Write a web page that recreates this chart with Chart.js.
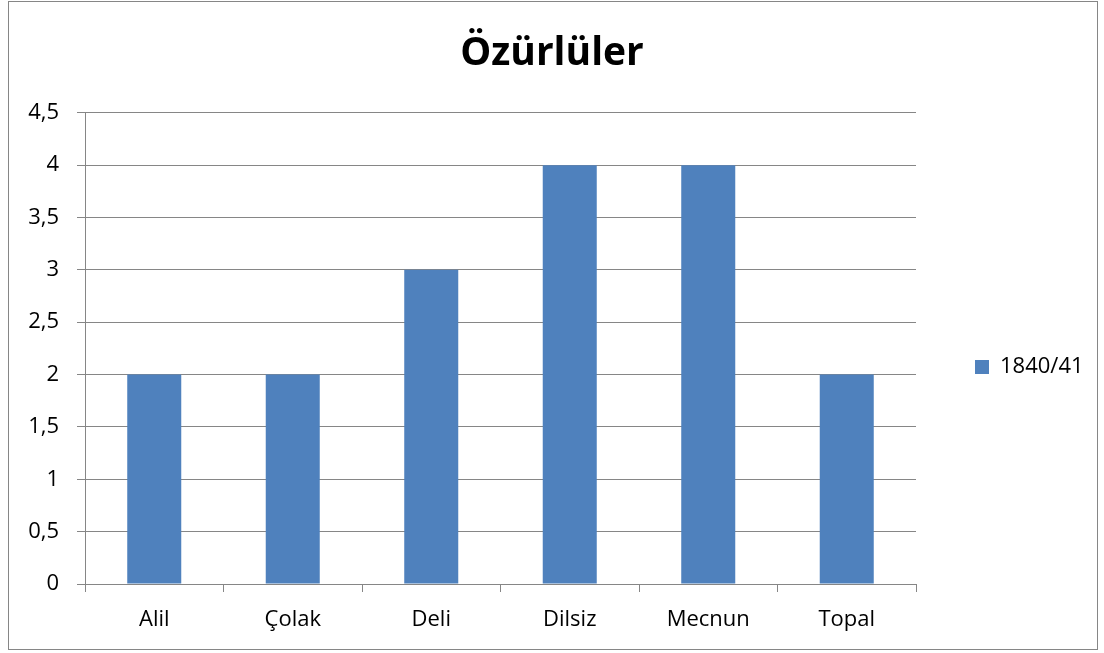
<!DOCTYPE html>
<html>
<head>
<meta charset="utf-8">
<script src="https://cdn.jsdelivr.net/npm/chart.js@4.4.1/dist/chart.umd.min.js"></script>
<style>
  html, body { margin: 0; padding: 0; background: #ffffff; }
  #wrap { width: 1104px; height: 653px; }
</style>
</head>
<body>
<div id="wrap"><canvas id="c" width="1104" height="653"></canvas></div>
<script>
const chartTitle = 'Özürlüler';
const categories = ['Alil', 'Çolak', 'Deli', 'Dilsiz', 'Mecnun', 'Topal'];
const seriesLabel = '1840/41';
const seriesValues = [2, 2, 3, 4, 4, 2];
const yTickValues = [0, 0.5, 1, 1.5, 2, 2.5, 3, 3.5, 4, 4.5];
const yTickLabels = ['0', '0,5', '1', '1,5', '2', '2,5', '3', '3,5', '4', '4,5'];

const FONT = '"Open Sans", "Liberation Sans", sans-serif';
const GRID = '#868686';
const BAR = '#4F81BD';

const frame = {
  id: 'frame',
  beforeDraw(chart) {
    const ctx = chart.ctx;
    ctx.save();
    ctx.fillStyle = '#ffffff';
    ctx.fillRect(0, 0, chart.width, chart.height);
    ctx.strokeStyle = GRID;
    ctx.lineWidth = 1;
    ctx.strokeRect(8.5, 1.5, 1089, 648);
    ctx.restore();
  }
};

const legendFix = {
  id: 'legendFix',
  beforeLayout(chart) {
    const l = chart.legend;
    if (l && !l._fixed) {
      const f = l.fit.bind(l);
      l.fit = function () { f(); this.width = 188; };
      l._fixed = true;
    }
  },
  afterLayout(chart) {
    const l = chart.legend;
    if (!l) return;
    const pad = l.options.labels.padding;
    const w = l.width;
    l.left = 975 - pad;
    l.right = l.left + w;
    const h = l.bottom - l.top;
    l.top = 367 - h / 2;
    l.bottom = 367 + h / 2;
  }
};

new Chart(document.getElementById('c'), {
  type: 'bar',
  data: {
    labels: categories,
    datasets: [{
      label: seriesLabel,
      data: seriesValues,
      backgroundColor: BAR,
      borderColor: BAR,
      borderWidth: 0,
      barPercentage: 0.39,
      categoryPercentage: 1.0
    }]
  },
  options: {
    responsive: false,
    animation: false,
    devicePixelRatio: 1,
    layout: { padding: { top: 0, left: 0, right: 0, bottom: 0 } },
    plugins: {
      title: {
        display: true,
        text: chartTitle,
        color: '#000000',
        font: { family: FONT, size: 39, weight: 'bold', lineHeight: 1.2 },
        padding: { top: 30, bottom: 36 }
      },
      legend: {
        display: true,
        position: 'right',
        labels: {
          color: '#000000',
          font: { family: FONT, size: 22 },
          boxWidth: 14,
          boxHeight: 14,
          padding: 10
        }
      },
      tooltip: { enabled: false }
    },
    scales: {
      x: {
        grid: {
          display: true,
          drawOnChartArea: false,
          drawTicks: true,
          tickLength: 8,
          offset: true,
          color: GRID
        },
        border: { display: true, color: GRID },
        ticks: {
          color: '#000000',
          font: { family: FONT, size: 22 },
          padding: 15,
          maxRotation: 0
        },
        afterFit(scale) { scale.height = 69; }
      },
      y: {
        min: 0,
        max: 4.5,
        afterBuildTicks(scale) {
          scale.ticks = yTickValues.map(v => ({ value: v }));
        },
        grid: {
          display: true,
          drawTicks: true,
          tickLength: 8,
          color: GRID
        },
        border: { display: true, color: GRID },
        ticks: {
          color: '#000000',
          font: { family: FONT, size: 22 },
          padding: 18,
          callback(value, index) { return yTickLabels[index]; }
        },
        afterFit(scale) { scale.width = 85; }
      }
    }
  },
  plugins: [frame, legendFix]
});
</script>
</body>
</html>
